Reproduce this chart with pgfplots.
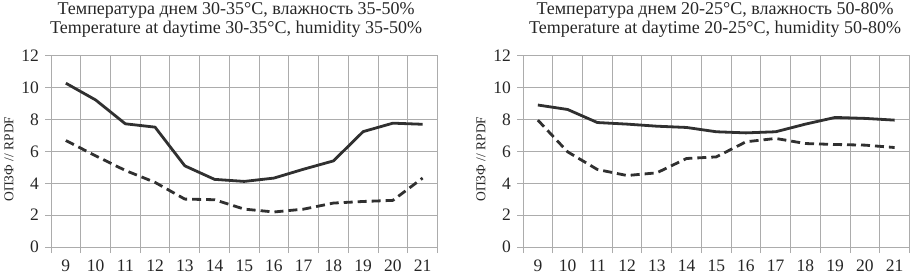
\documentclass[border=0pt]{standalone}
\usepackage{pgfplots}
\pgfplotsset{compat=1.18}
\usepackage{fontspec}
\setmainfont{Liberation Serif}
\definecolor{gridc}{RGB}{172,172,172}
\definecolor{linec}{RGB}{48,48,48}
\pgfplotsset{
  mystyle/.style={
    scale only axis, width=386.5bp, height=191bp,
    xmin=8.5, xmax=21.5, ymin=0, ymax=12,
    xtick={8.5,9.5,10.5,11.5,12.5,13.5,14.5,15.5,16.5,17.5,18.5,19.5,20.5,21.5},
    xticklabel={\pgfmathtruncatemacro\lab{\tick+0.5}\ifnum\lab<22 \lab\fi},
    xticklabel style={xshift=14.87bp, inner sep=0pt, anchor=north, yshift=-6.5bp},
    ytick={0,2,...,12},
    yticklabel style={/pgf/number format/assume math mode=true, inner sep=0pt, xshift=-6bp},
    grid=major,
    grid style={gridc, line width=1bp},
    axis line style={gridc, line width=1bp},
    tick align=outside, xtick pos=bottom, ytick pos=left,
    major tick length=6bp,
    tick style={gridc, line width=1bp},
    tick label style={font=\fontsize{17.5bp}{18bp}\selectfont, text=black!85},
    ylabel={ОПЗФ // RPDF},
    ylabel style={font=\fontsize{13.5bp}{14bp}\selectfont, text=black!85, anchor=center, at={(axis description cs:-0.109,0.46)}},
    title style={font=\fontsize{18bp}{19bp}\selectfont, text=black!85, align=center, inner sep=0pt, anchor=south, yshift=12.5bp},
    clip=false,
  },
  solidl/.style={linec, line width=2.8bp, line join=round, no marks},
  dashl/.style={linec, line width=2.8bp, line join=round, no marks, dash pattern=on 9bp off 5bp},
}
\begin{document}
\begin{tikzpicture}
\path[use as bounding box] (0,0) rectangle (911bp,275bp);
\begin{axis}[mystyle, at={(51bp,28bp)}, anchor=south west,
  title={Температура днем 30-35°C, влажность 35-50\%\\Temperature at daytime 30-35°C, humidity 35-50\%},
  title style={at={(axis description cs:0.479,1)}}]
\addplot[solidl] coordinates {(9,10.29) (10,9.24) (11,7.74) (12,7.53) (13,5.10) (14,4.25) (15,4.12) (16,4.33) (17,4.89) (18,5.41) (19,7.25) (20,7.78) (21,7.71)};
\addplot[dashl] coordinates {(9,6.69) (10,5.73) (11,4.81) (12,4.06) (13,3.01) (14,2.97) (15,2.38) (16,2.2) (17,2.38) (18,2.76) (19,2.86) (20,2.93) (21,4.33)};
\end{axis}
\begin{axis}[mystyle, at={(523bp,28bp)}, anchor=south west,
  title={Температура днем 20-25°C, влажность 50-80\%\\Temperature at daytime 20-25°C, humidity 50-80\%},
  title style={at={(axis description cs:0.497,1)}}]
\addplot[solidl] coordinates {(9,8.92) (10,8.64) (11,7.82) (12,7.72) (13,7.59) (14,7.51) (15,7.24) (16,7.17) (17,7.24) (18,7.72) (19,8.14) (20,8.08) (21,7.97)};
\addplot[dashl] coordinates {(9,7.97) (10,5.98) (11,4.87) (12,4.49) (13,4.66) (14,5.56) (15,5.66) (16,6.61) (17,6.82) (18,6.5) (19,6.44) (20,6.4) (21,6.25)};
\end{axis}
\end{tikzpicture}
\end{document}
